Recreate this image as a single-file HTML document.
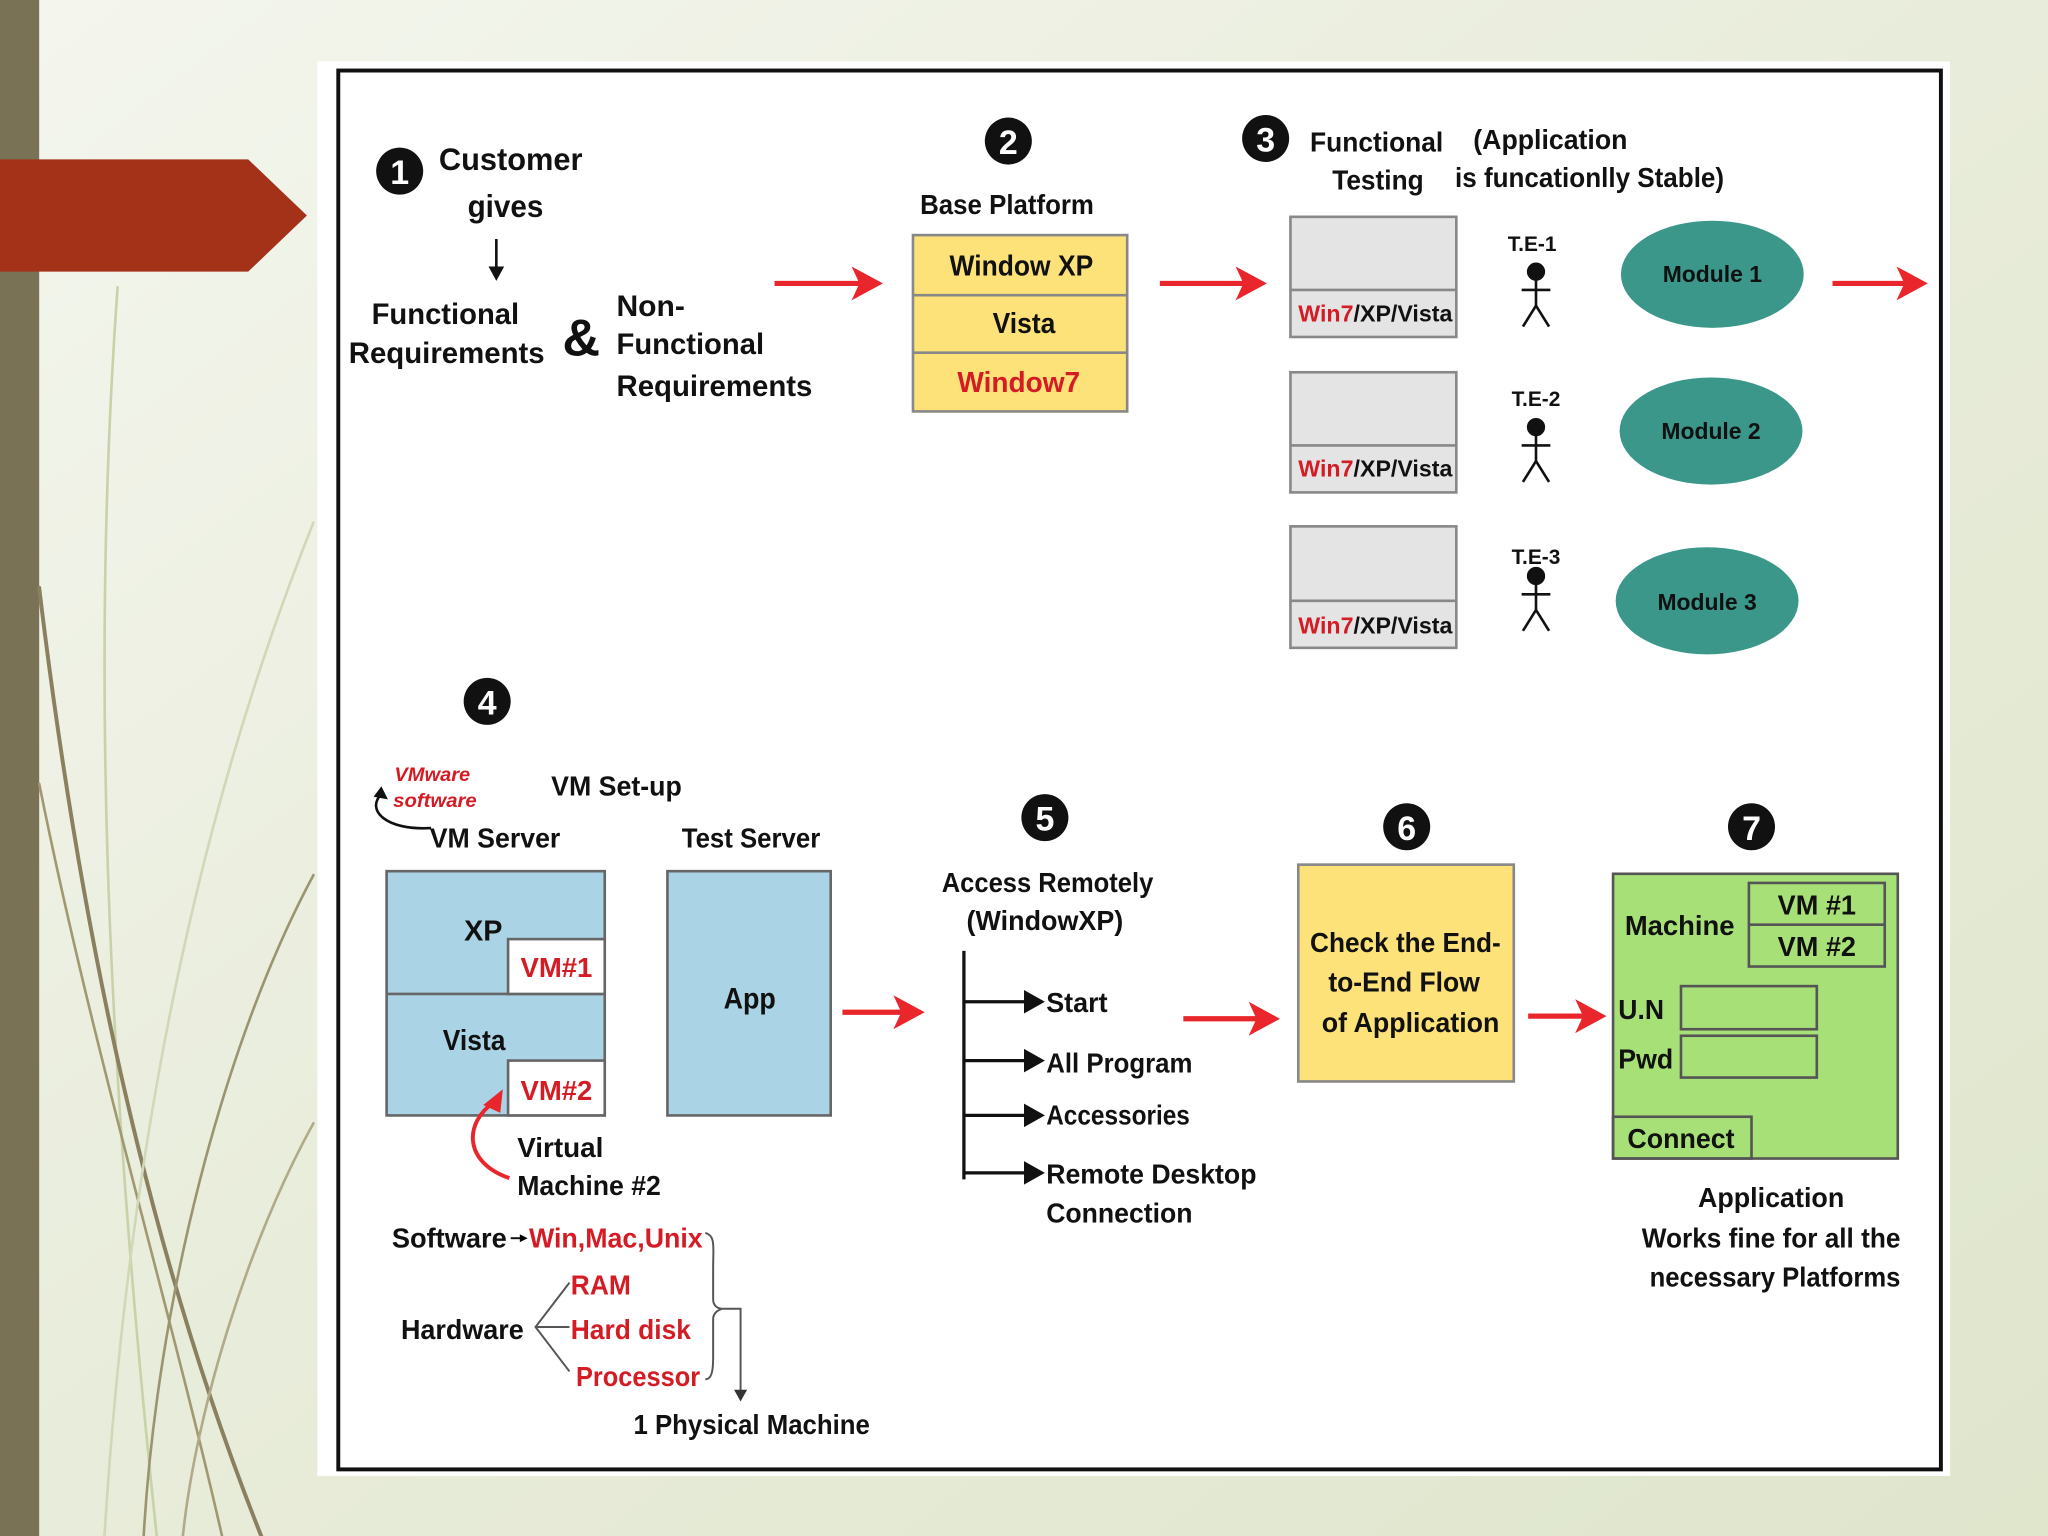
<!DOCTYPE html>
<html><head><meta charset="utf-8"><style>
html,body{margin:0;padding:0;width:2048px;height:1536px;overflow:hidden}
svg{display:block}
text{font-family:"Liberation Sans Narrow","Liberation Sans",sans-serif;font-weight:bold;fill:#111}
.r{fill:#d41c24}.w{fill:#fff}
</style></head><body>
<svg width="2048" height="1536" viewBox="0 0 1568 1176" xmlns="http://www.w3.org/2000/svg">
<defs>
<linearGradient id="bg" x1="0" y1="0" x2="1" y2="1">
<stop offset="0" stop-color="#f4f6ee"/><stop offset="0.5" stop-color="#e8ecda"/><stop offset="1" stop-color="#dfe6cc"/>
</linearGradient>
</defs>
<rect width="1568" height="1176" fill="url(#bg)"/>
<rect x="0" y="0" width="30" height="1176" fill="#7a7254"/>
<g fill="none" stroke-linecap="round">
<path d="M90,220 C70,500 80,800 120,1176" stroke="#c8d2a8" stroke-width="2"/>
<path d="M30,450 C60,700 110,950 200,1176" stroke="#8a8060" stroke-width="3"/>
<path d="M30,600 C70,800 130,1000 170,1176" stroke="#a09870" stroke-width="2"/>
<path d="M240,400 C160,600 100,850 80,1176" stroke="#d0d8b8" stroke-width="2"/>
<path d="M240,670 C170,800 120,1000 110,1176" stroke="#9a9570" stroke-width="2"/>
<path d="M240,860 C190,950 150,1080 140,1176" stroke="#b0aa88" stroke-width="2"/>
</g>
<path d="M0,122 L190,122 L235,165 L190,208 L0,208 Z" fill="#a33218"/>
<rect x="243" y="47" width="1250" height="1083" fill="#fff"/>
<rect x="259" y="54" width="1227" height="1071" fill="none" stroke="#111" stroke-width="3"/>

<!-- 1 -->
<circle cx="306" cy="131" r="18" fill="#111"/><text x="306" y="141" text-anchor="middle" class="w" font-size="26">1</text>
<text x="391" y="130" text-anchor="middle" font-size="24" textLength="110" lengthAdjust="spacingAndGlyphs">Customer</text>
<text x="387" y="166" text-anchor="middle" font-size="24" textLength="58" lengthAdjust="spacingAndGlyphs">gives</text>
<line x1="380" y1="183" x2="380" y2="210" stroke="#111" stroke-width="2"/><path d="M374,204 L380,215 L386,204 Z" fill="#111"/>
<text x="341" y="248" text-anchor="middle" font-size="23" font-weight="normal" textLength="113" lengthAdjust="spacingAndGlyphs">Functional</text>
<text x="342" y="278" text-anchor="middle" font-size="23" font-weight="normal" textLength="150" lengthAdjust="spacingAndGlyphs">Requirements</text>
<text x="445" y="272" text-anchor="middle" font-size="40" font-weight="normal">&amp;</text>
<text x="472" y="242" font-size="23" font-weight="normal">Non-</text>
<text x="472" y="271" font-size="23" font-weight="normal" textLength="113" lengthAdjust="spacingAndGlyphs">Functional</text>
<text x="472" y="303" font-size="23" font-weight="normal" textLength="150" lengthAdjust="spacingAndGlyphs">Requirements</text>
<g stroke="#e8262c" stroke-width="4"><line x1="593" y1="217" x2="662" y2="217"/><line x1="888" y1="217" x2="955" y2="217"/><line x1="1403" y1="217" x2="1462" y2="217"/><line x1="645" y1="775" x2="693" y2="775"/><line x1="906" y1="780" x2="965" y2="780"/><line x1="1170" y1="778" x2="1215" y2="778"/></g>
<g fill="#e8262c"><path d="M652,204 L676,217 L652,230 L658,217Z"/><path d="M946,204 L970,217 L946,230 L952,217Z"/><path d="M1452,204 L1476,217 L1452,230 L1458,217Z"/><path d="M684,762 L708,775 L684,788 L690,775Z"/><path d="M956,767 L980,780 L956,793 L962,780Z"/><path d="M1206,765 L1230,778 L1206,791 L1212,778Z"/></g>

<!-- 2 -->
<circle cx="772" cy="108" r="18" fill="#111"/><text x="772" y="118" text-anchor="middle" class="w" font-size="26">2</text>
<text x="771" y="164" text-anchor="middle" font-size="21" textLength="133" lengthAdjust="spacingAndGlyphs">Base Platform</text>
<rect x="699" y="180" width="164" height="135" fill="#fde27a" stroke="#888" stroke-width="2"/>
<line x1="699" y1="226" x2="863" y2="226" stroke="#888" stroke-width="2"/><line x1="699" y1="270" x2="863" y2="270" stroke="#888" stroke-width="2"/>
<text x="782" y="211" text-anchor="middle" font-size="22" textLength="110" lengthAdjust="spacingAndGlyphs">Window XP</text>
<text x="784" y="255" text-anchor="middle" font-size="22" textLength="48" lengthAdjust="spacingAndGlyphs">Vista</text>
<text x="780" y="300" text-anchor="middle" font-size="22" class="r" textLength="94" lengthAdjust="spacingAndGlyphs">Window7</text>

<!-- 3 -->
<circle cx="969" cy="106" r="18" fill="#111"/><text x="969" y="116" text-anchor="middle" class="w" font-size="26">3</text>
<text x="1054" y="116" text-anchor="middle" font-size="21" font-weight="normal" textLength="102" lengthAdjust="spacingAndGlyphs">Functional</text>
<text x="1055" y="145" text-anchor="middle" font-size="21" font-weight="normal" textLength="70" lengthAdjust="spacingAndGlyphs">Testing</text>
<text x="1187" y="114" text-anchor="middle" font-size="21" font-weight="normal" textLength="118" lengthAdjust="spacingAndGlyphs">(Application</text>
<text x="1217" y="143" text-anchor="middle" font-size="21" font-weight="normal" textLength="206" lengthAdjust="spacingAndGlyphs">is funcationlly Stable)</text>
<g stroke="#888" stroke-width="2" fill="#e4e4e4">
<rect x="988" y="166" width="127" height="92"/><line x1="988" y1="222" x2="1115" y2="222"/>
<rect x="988" y="285" width="127" height="92"/><line x1="988" y1="341" x2="1115" y2="341"/>
<rect x="988" y="403" width="127" height="93"/><line x1="988" y1="460" x2="1115" y2="460"/>
</g>
<g font-size="18"><text x="994" y="246" textLength="118" lengthAdjust="spacingAndGlyphs"><tspan class="r">Win7</tspan>/XP/Vista</text>
<text x="994" y="365" textLength="118" lengthAdjust="spacingAndGlyphs"><tspan class="r">Win7</tspan>/XP/Vista</text>
<text x="994" y="485" textLength="118" lengthAdjust="spacingAndGlyphs"><tspan class="r">Win7</tspan>/XP/Vista</text></g>
<g font-size="16" font-weight="normal" text-anchor="middle"><text x="1173" y="192">T.E-1</text><text x="1176" y="311">T.E-2</text><text x="1176" y="432">T.E-3</text></g>
<g stroke="#111" stroke-width="2" fill="#111">
<circle cx="1176" cy="208" r="6"/><path d="M1176,214 V234 M1165,222 H1187 M1176,234 L1166,250 M1176,234 L1186,250" fill="none"/>
<circle cx="1176" cy="327" r="6"/><path d="M1176,333 V353 M1165,341 H1187 M1176,353 L1166,369 M1176,353 L1186,369" fill="none"/>
<circle cx="1176" cy="441" r="6"/><path d="M1176,447 V467 M1165,455 H1187 M1176,467 L1166,483 M1176,467 L1186,483" fill="none"/>
</g>
<g fill="#3a978a"><ellipse cx="1311" cy="210" rx="70" ry="41"/><ellipse cx="1310" cy="330" rx="70" ry="41"/><ellipse cx="1307" cy="460" rx="70" ry="41"/></g>
<g class="w" font-size="18" text-anchor="middle"><text x="1311" y="216" textLength="76" lengthAdjust="spacingAndGlyphs">Module 1</text><text x="1310" y="336" textLength="76" lengthAdjust="spacingAndGlyphs">Module 2</text><text x="1307" y="467" textLength="76" lengthAdjust="spacingAndGlyphs">Module 3</text></g>

<!-- 4 -->
<circle cx="373" cy="537" r="18" fill="#111"/><text x="373" y="547" text-anchor="middle" class="w" font-size="26">4</text>
<text x="331" y="598" text-anchor="middle" font-size="15" font-style="italic" class="r" textLength="58" lengthAdjust="spacingAndGlyphs">VMware</text>
<text x="333" y="618" text-anchor="middle" font-size="15" font-style="italic" class="r" textLength="64" lengthAdjust="spacingAndGlyphs">software</text>
<path d="M330,634 C295,636 280,620 292,608" fill="none" stroke="#111" stroke-width="2"/><path d="M286,610 L292,602 L297,612Z" fill="#111"/>
<text x="472" y="609" text-anchor="middle" font-size="21" textLength="100" lengthAdjust="spacingAndGlyphs">VM Set-up</text>
<text x="379" y="649" text-anchor="middle" font-size="21" textLength="100" lengthAdjust="spacingAndGlyphs">VM Server</text>
<text x="575" y="649" text-anchor="middle" font-size="21" textLength="106" lengthAdjust="spacingAndGlyphs">Test Server</text>
<g stroke="#666" stroke-width="2">
<rect x="296" y="667" width="167" height="187" fill="#abd3e6"/><line x1="296" y1="761" x2="463" y2="761"/>
<rect x="389" y="719" width="74" height="42" fill="#fff"/><rect x="389" y="812" width="74" height="42" fill="#fff"/>
<rect x="511" y="667" width="125" height="187" fill="#abd3e6"/></g>
<text x="370" y="720" text-anchor="middle" font-size="22">XP</text>
<text x="363" y="804" text-anchor="middle" font-size="22" textLength="48" lengthAdjust="spacingAndGlyphs">Vista</text>
<text x="426" y="748" text-anchor="middle" font-size="21" class="r" textLength="55" lengthAdjust="spacingAndGlyphs">VM#1</text>
<text x="426" y="842" text-anchor="middle" font-size="21" class="r" textLength="55" lengthAdjust="spacingAndGlyphs">VM#2</text>
<text x="574" y="772" text-anchor="middle" font-size="23" textLength="40" lengthAdjust="spacingAndGlyphs">App</text>
<path d="M390,902 C355,890 355,860 378,844" fill="none" stroke="#e8262c" stroke-width="3"/><path d="M370,846 L385,834 L383,852Z" fill="#e8262c"/>
<text x="396" y="886" font-size="21" textLength="66" lengthAdjust="spacingAndGlyphs">Virtual</text>
<text x="396" y="915" font-size="21" textLength="110" lengthAdjust="spacingAndGlyphs">Machine #2</text>
<text x="300" y="955" font-size="21" textLength="88" lengthAdjust="spacingAndGlyphs">Software</text>
<line x1="391" y1="948" x2="400" y2="948" stroke="#111" stroke-width="1.5"/><path d="M398,945 L404,948 L398,951Z"/>
<text x="405" y="955" font-size="21" class="r" textLength="133" lengthAdjust="spacingAndGlyphs">Win,Mac,Unix</text>
<text x="437" y="991" font-size="21" class="r" textLength="46" lengthAdjust="spacingAndGlyphs">RAM</text>
<text x="307" y="1025" font-size="21" textLength="94" lengthAdjust="spacingAndGlyphs">Hardware</text>
<text x="437" y="1025" font-size="21" class="r" textLength="92" lengthAdjust="spacingAndGlyphs">Hard disk</text>
<text x="441" y="1061" font-size="21" class="r" textLength="95" lengthAdjust="spacingAndGlyphs">Processor</text>
<g fill="none" stroke="#555" stroke-width="1.5">
<path d="M436,982 L410,1016 L436,1050 M410,1016 H436"/>
<path d="M540,944 C548,946 546,955 546,970 V995 C546,1000 550,1002 553,1002 C550,1003 546,1005 546,1010 V1040 C546,1052 544,1056 540,1056"/>
<path d="M553,1002 H567 V1068"/></g>
<path d="M562,1064 L567,1073 L572,1064Z" fill="#333"/>
<text x="485" y="1098" font-size="21" textLength="181" lengthAdjust="spacingAndGlyphs">1 Physical Machine</text>

<!-- 5 -->
<circle cx="800" cy="626" r="18" fill="#111"/><text x="800" y="636" text-anchor="middle" class="w" font-size="26">5</text>
<text x="802" y="683" text-anchor="middle" font-size="21" textLength="162" lengthAdjust="spacingAndGlyphs">Access Remotely</text>
<text x="800" y="712" text-anchor="middle" font-size="21" textLength="120" lengthAdjust="spacingAndGlyphs">(WindowXP)</text>
<g stroke="#111" stroke-width="2.5" fill="none"><path d="M738,728 V903 M738,767 H790 M738,812 H790 M738,854 H790 M738,898 H790"/></g>
<g fill="#111"><path d="M784,758 L800,767 L784,776Z"/><path d="M784,803 L800,812 L784,821Z"/><path d="M784,845 L800,854 L784,863Z"/><path d="M784,889 L800,898 L784,907Z"/></g>
<g font-size="21"><text x="801" y="775" textLength="47" lengthAdjust="spacingAndGlyphs">Start</text><text x="801" y="821" textLength="112" lengthAdjust="spacingAndGlyphs">All Program</text><text x="801" y="861" textLength="110" lengthAdjust="spacingAndGlyphs">Accessories</text><text x="801" y="906" textLength="161" lengthAdjust="spacingAndGlyphs">Remote Desktop</text><text x="801" y="936" textLength="112" lengthAdjust="spacingAndGlyphs">Connection</text></g>

<!-- 6 -->
<circle cx="1077" cy="633" r="18" fill="#111"/><text x="1077" y="643" text-anchor="middle" class="w" font-size="26">6</text>
<rect x="994" y="662" width="165" height="166" fill="#fde27a" stroke="#888" stroke-width="2"/>
<g font-size="21" text-anchor="middle"><text x="1076" y="729" textLength="146" lengthAdjust="spacingAndGlyphs">Check the End-</text><text x="1075" y="759" textLength="116" lengthAdjust="spacingAndGlyphs">to-End Flow</text><text x="1080" y="790" textLength="136" lengthAdjust="spacingAndGlyphs">of Application</text></g>

<!-- 7 -->
<circle cx="1341" cy="633" r="18" fill="#111"/><text x="1341" y="643" text-anchor="middle" class="w" font-size="26">7</text>
<g stroke="#555" stroke-width="2">
<rect x="1235" y="669" width="218" height="218" fill="#a8e078"/>
<rect x="1339" y="676" width="104" height="64" fill="none"/><line x1="1339" y1="708" x2="1443" y2="708"/>
<rect x="1287" y="755" width="104" height="33" fill="none"/><rect x="1287" y="793" width="104" height="32" fill="none"/>
<rect x="1235" y="855" width="106" height="32" fill="none"/></g>
<g font-size="21"><text x="1286" y="716" text-anchor="middle" textLength="84" lengthAdjust="spacingAndGlyphs">Machine</text><text x="1391" y="700" text-anchor="middle" textLength="60" lengthAdjust="spacingAndGlyphs">VM #1</text><text x="1391" y="732" text-anchor="middle" textLength="60" lengthAdjust="spacingAndGlyphs">VM #2</text>
<text x="1239" y="780" textLength="35" lengthAdjust="spacingAndGlyphs">U.N</text><text x="1239" y="818" textLength="42" lengthAdjust="spacingAndGlyphs">Pwd</text><text x="1246" y="879" textLength="82" lengthAdjust="spacingAndGlyphs">Connect</text></g>
<g font-size="21" text-anchor="middle"><text x="1356" y="924" textLength="112" lengthAdjust="spacingAndGlyphs">Application</text><text x="1356" y="955" textLength="198" lengthAdjust="spacingAndGlyphs">Works fine for all the</text><text x="1359" y="985" textLength="192" lengthAdjust="spacingAndGlyphs">necessary Platforms</text></g>
</svg>
</body></html>
